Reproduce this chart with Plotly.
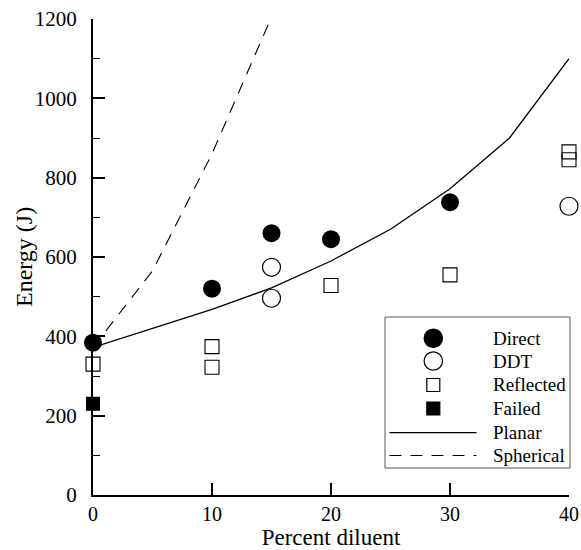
import plotly.graph_objects as go

# Measured ignition energies (J) versus percent diluent
direct_x = [0, 10, 15, 20, 30]
direct_y = [384, 520, 660, 645, 738]

ddt_x = [15, 15, 40]
ddt_y = [574, 496, 728]

reflected_x = [0, 10, 10, 20, 30, 40, 40]
reflected_y = [330, 374, 322, 528, 555, 845, 865]

failed_x = [0]
failed_y = [230]

# Model predictions
planar_x = [0, 5, 10, 15, 20, 25, 30, 35, 40]
planar_y = [372, 420, 468, 522, 590, 670, 772, 900, 1100]

spherical_x = [0, 5, 10, 15]
spherical_y = [372, 565, 860, 1205]

legend_labels = ["Direct", "DDT", "Reflected", "Failed", "Planar", "Spherical"]

FONT = "Liberation Serif, Times New Roman, serif"
W, H = 581, 550
M_L, M_R, M_T, M_B = 93, 12, 19, 55
PLOT_W = W - M_L - M_R
PLOT_H = H - M_T - M_B
DASH = "12px,9px"


def px_x(px):
    """Page pixel column -> paper x."""
    return (px - M_L) / PLOT_W


def px_y(py):
    """Page pixel row -> paper y."""
    return (H - M_B - py) / PLOT_H


fig = go.Figure()

fig.add_trace(go.Scatter(x=planar_x, y=planar_y, mode="lines", name="Planar",
                         line=dict(color="black", width=1.3)))
fig.add_trace(go.Scatter(x=spherical_x, y=spherical_y, mode="lines", name="Spherical",
                         line=dict(color="black", width=1.1, dash=DASH)))
fig.add_trace(go.Scatter(x=direct_x, y=direct_y, mode="markers", name="Direct",
                         marker=dict(symbol="circle", size=18, color="black"),
                         cliponaxis=False))
fig.add_trace(go.Scatter(x=ddt_x, y=ddt_y, mode="markers", name="DDT",
                         marker=dict(symbol="circle-open", size=18, color="black",
                                     line=dict(width=1.2)),
                         cliponaxis=False))
fig.add_trace(go.Scatter(x=reflected_x, y=reflected_y, mode="markers", name="Reflected",
                         marker=dict(symbol="square-open", size=14, color="black",
                                     line=dict(width=1.1)),
                         cliponaxis=False))
fig.add_trace(go.Scatter(x=failed_x, y=failed_y, mode="markers", name="Failed",
                         marker=dict(symbol="square", size=14, color="black"),
                         cliponaxis=False))

# Boxed key in the lower right corner of the axes
shapes = []
annotations = []
box = dict(left=385, right=570, top=317, bottom=468)
shapes.append(dict(type="rect", xref="paper", yref="paper", layer="above",
                   x0=px_x(box["left"]), x1=px_x(box["right"]),
                   y0=px_y(box["bottom"]), y1=px_y(box["top"]),
                   line=dict(color="#555", width=1), fillcolor="white"))

row_y = [338.3, 361, 385, 408.5, 432.7, 455.5]
sym_x = 433.3
text_x = 491
line_x0, line_x1 = 389.5, 476.5

key_styles = [
    ("circle", 9.2, "black", "black"),
    ("circle", 9.2, "white", "black"),
    ("rect", 6.5, "white", "black"),
    ("rect", 6.5, "black", "black"),
]
for (kind, r, fill, edge), yy in zip(key_styles, row_y[:4]):
    shapes.append(dict(type=kind, xref="paper", yref="paper", layer="above",
                       xsizemode="pixel", ysizemode="pixel",
                       xanchor=px_x(sym_x), yanchor=px_y(yy),
                       x0=-r, x1=r, y0=-r, y1=r,
                       fillcolor=fill, line=dict(color=edge, width=1.2)))
for dash, yy in zip(["solid", DASH], row_y[4:]):
    shapes.append(dict(type="line", xref="paper", yref="paper", layer="above",
                       x0=px_x(line_x0), x1=px_x(line_x1),
                       y0=px_y(yy), y1=px_y(yy),
                       line=dict(color="black", width=1.2, dash=dash)))
for label, yy in zip(legend_labels, row_y):
    annotations.append(dict(text=label, xref="paper", yref="paper",
                            x=px_x(text_x), y=px_y(yy),
                            xanchor="left", yanchor="middle", showarrow=False,
                            font=dict(family=FONT, size=19, color="black")))

# Vertical axis title
annotations.append(dict(text="Energy (J)", xref="paper", yref="paper",
                        x=px_x(24), y=0.5, textangle=-90,
                        xanchor="center", yanchor="middle", showarrow=False,
                        font=dict(family=FONT, size=24, color="black")))

fig.update_layout(
    width=W, height=H,
    margin=dict(l=M_L, r=M_R, t=M_T, b=M_B),
    paper_bgcolor="white", plot_bgcolor="white",
    font=dict(family=FONT, size=21, color="black"),
    showlegend=False,
    shapes=shapes,
    annotations=annotations,
    xaxis=dict(range=[0, 40], tickvals=[0, 10, 20, 30, 40],
               ticks="inside", ticklen=12, tickwidth=2, tickcolor="black",
               showline=True, linecolor="black", linewidth=2,
               showgrid=False, zeroline=False, automargin=False,
               title=dict(text="Percent diluent", font=dict(size=23), standoff=9),
               tickfont=dict(size=20)),
    yaxis=dict(range=[0, 1200], tickvals=[0, 200, 400, 600, 800, 1000, 1200],
               ticks="inside", ticklen=12, tickwidth=2, tickcolor="black",
               showline=True, linecolor="black", linewidth=2,
               showgrid=False, zeroline=False, automargin=False,
               ticklabelstandoff=10,
               minor=dict(dtick=100, ticks="inside", ticklen=7, tickwidth=1,
                          tickcolor="black", showgrid=False),
               tickfont=dict(size=21)),
)

fig.write_html("out.html")
